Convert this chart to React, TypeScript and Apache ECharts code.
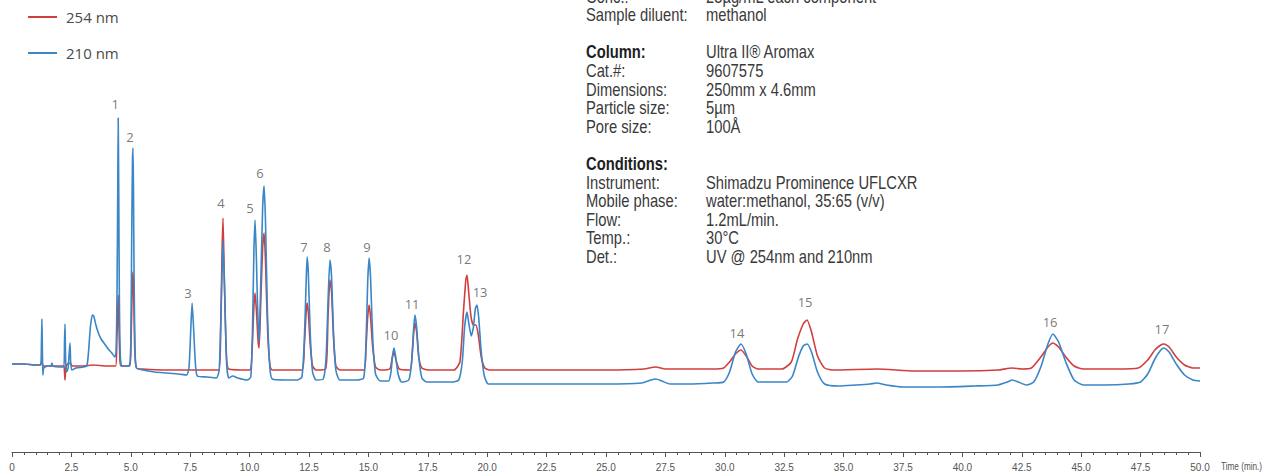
import React, { useEffect, useRef } from "react";
import * as echarts from "echarts";

// Chromatogram traces: [time (min), detector response (arbitrary units)]
const trace254: number[][] = [
  [0, 88], [0.5, 88], [1.0, 87], [1.2, 87], [1.26, 90], [1.32, 86], [1.5, 86], [2.0, 86], [2.18, 86],
  [2.21, 80], [2.23, 72], [2.26, 82], [2.3, 87], [2.44, 89], [2.55, 86], [3.0, 86], [3.4, 87], [4.0, 86],
  [4.36, 86], [4.41, 110], [4.45, 140], [4.47, 157], [4.49, 140], [4.53, 100], [4.58, 86], [4.95, 86],
  [5.01, 110], [5.06, 165], [5.09, 180], [5.12, 160], [5.17, 100], [5.24, 84], [5.5, 83], [6.5, 82],
  [7.5, 82], [8.7, 82], [8.78, 120], [8.84, 200], [8.88, 234], [8.93, 180], [9.02, 100], [9.12, 83],
  [10.0, 82], [10.1, 100], [10.18, 145], [10.23, 159], [10.29, 140], [10.36, 110], [10.4, 104],
  [10.47, 150], [10.55, 205], [10.61, 219], [10.67, 190], [10.76, 120], [10.86, 86], [10.95, 82],
  [12.2, 82], [12.3, 105], [12.38, 140], [12.42, 149], [12.47, 140], [12.55, 108], [12.65, 86],
  [12.8, 82], [13.2, 83], [13.3, 135], [13.38, 172], [13.45, 160], [13.53, 115], [13.63, 86],
  [13.8, 82], [14.8, 82], [14.9, 105], [14.97, 135], [15.03, 147], [15.09, 135], [15.18, 105],
  [15.3, 85], [15.5, 82], [15.9, 83], [16.0, 94], [16.08, 100], [16.16, 92], [16.3, 83], [16.75, 82],
  [16.84, 97], [16.91, 120], [16.96, 129], [17.03, 120], [17.12, 95], [17.25, 84], [17.5, 82],
  [18.6, 82], [18.85, 90], [19.0, 140], [19.1, 172], [19.15, 177], [19.22, 160], [19.32, 135],
  [19.42, 127], [19.52, 127], [19.62, 118], [19.75, 95], [19.9, 84], [20.1, 82], [22, 82], [25, 82],
  [26.6, 83], [27.1, 85], [27.5, 83], [28.5, 83], [29.5, 83], [29.95, 84], [30.2, 90], [30.45, 98],
  [30.68, 102], [30.9, 96], [31.15, 86], [31.4, 83], [32.4, 83], [32.8, 90], [33.05, 112], [33.3, 128],
  [33.46, 132], [33.65, 120], [33.9, 96], [34.2, 84], [34.6, 82], [36.4, 83], [38, 81], [40, 81],
  [41.5, 82], [42.1, 84], [42.5, 83], [42.9, 84], [43.3, 95], [43.6, 105], [43.81, 109], [44.05, 105],
  [44.35, 95], [44.7, 86], [45.1, 83], [46.5, 83], [47.4, 84], [47.8, 92], [48.1, 102], [48.35, 107],
  [48.48, 108], [48.7, 105], [49.0, 95], [49.35, 87], [49.7, 84], [50, 84],
];

const trace210: number[][] = [
  [0, 88], [0.5, 88], [1.0, 87], [1.2, 87], [1.24, 110], [1.26, 133], [1.28, 100], [1.3, 77], [1.34, 84],
  [1.5, 86], [1.64, 86], [1.68, 89], [1.72, 86], [2.0, 85], [2.18, 85], [2.21, 110], [2.23, 128],
  [2.26, 90], [2.3, 80], [2.36, 84], [2.41, 100], [2.44, 109], [2.47, 90], [2.52, 82], [2.7, 84],
  [3.0, 85], [3.15, 86], [3.22, 100], [3.3, 125], [3.38, 137], [3.44, 136], [3.52, 128], [3.62, 120],
  [3.75, 113], [3.9, 108], [4.05, 103], [4.2, 99], [4.33, 95], [4.38, 100], [4.42, 160], [4.45, 260],
  [4.47, 334], [4.49, 270], [4.52, 150], [4.56, 95], [4.62, 86], [4.8, 86], [4.95, 87], [5.0, 110],
  [5.04, 220], [5.07, 290], [5.09, 304], [5.11, 270], [5.14, 170], [5.18, 100], [5.24, 84], [5.5, 82],
  [6.0, 80], [6.5, 79], [7.0, 78], [7.35, 77], [7.45, 85], [7.52, 120], [7.58, 149], [7.64, 125],
  [7.72, 88], [7.8, 76], [8.2, 75], [8.6, 74], [8.72, 82], [8.8, 140], [8.88, 212], [8.95, 160],
  [9.03, 90], [9.12, 74], [9.3, 76], [9.5, 74], [9.9, 72], [10.05, 75], [10.12, 120], [10.18, 200],
  [10.23, 232], [10.29, 190], [10.33, 150], [10.4, 109], [10.46, 160], [10.55, 245], [10.61, 266],
  [10.67, 230], [10.75, 140], [10.85, 85], [10.95, 73], [11.5, 72], [12.0, 72], [12.2, 75], [12.3, 110],
  [12.38, 170], [12.42, 195], [12.47, 180], [12.55, 120], [12.65, 80], [12.8, 72], [13.1, 73],
  [13.22, 95], [13.3, 150], [13.38, 192], [13.45, 175], [13.53, 120], [13.63, 82], [13.8, 72],
  [14.5, 72], [14.8, 74], [14.9, 110], [14.97, 170], [15.03, 194], [15.09, 175], [15.18, 115],
  [15.3, 78], [15.5, 71], [15.85, 71], [15.95, 80], [16.02, 97], [16.08, 104], [16.15, 95], [16.25, 78],
  [16.4, 70], [16.7, 72], [16.82, 90], [16.9, 122], [16.96, 137], [17.03, 125], [17.12, 95], [17.25, 74],
  [17.45, 70], [18.5, 70], [18.8, 72], [18.95, 90], [19.05, 125], [19.15, 140], [19.23, 128],
  [19.33, 116], [19.42, 125], [19.5, 143], [19.57, 147], [19.64, 135], [19.75, 100], [19.88, 76],
  [20.05, 68], [21, 68], [23, 68], [25, 68], [26.5, 69], [26.9, 72], [27.1, 73], [27.35, 71], [27.7, 68],
  [28.5, 68], [29.5, 69], [29.95, 70], [30.2, 80], [30.45, 100], [30.68, 108], [30.9, 98], [31.15, 78],
  [31.4, 70], [32, 70], [32.6, 70], [32.85, 76], [33.1, 95], [33.3, 106], [33.46, 108], [33.65, 100],
  [33.9, 80], [34.2, 68], [34.8, 66], [35.5, 67], [36.1, 68], [36.4, 69], [36.8, 67], [37.5, 65],
  [39, 65], [40.5, 66], [41.5, 67], [41.9, 70], [42.1, 72], [42.35, 70], [42.7, 67], [43.0, 70],
  [43.3, 85], [43.6, 108], [43.81, 118], [44.05, 110], [44.35, 90], [44.7, 72], [45.1, 67], [46, 67],
  [47, 68], [47.5, 70], [47.8, 78], [48.1, 93], [48.35, 102], [48.48, 104], [48.7, 100], [49.0, 88],
  [49.35, 77], [49.7, 72], [50, 71],
];

// Peak numbers and where their labels sit
const peakNames = ["1", "2", "3", "4", "5", "6", "7", "8", "9", "10", "11", "12", "13", "14", "15", "16", "17"];
const peakLabelTime = [4.34, 4.97, 7.41, 8.8, 10.02, 10.44, 12.29, 13.26, 14.94, 15.95, 16.84, 19.02, 19.7, 30.51, 33.38, 43.69, 48.4];
const peakLabelValue = [348, 315, 159, 249, 244, 279, 205, 205, 205, 117, 148, 193, 160, 119, 150, 130, 123];

const seriesNames = ["254 nm", "210 nm"];
const axisTitle = "Time (min.)";

// Method info block
const infoLabels = ["Conc.:", "Sample diluent:", "", "Column:", "Cat.#:", "Dimensions:", "Particle size:", "Pore size:", "", "Conditions:", "Instrument:", "Mobile phase:", "Flow:", "Temp.:", "Det.:"];
const infoValues = ["25µg/mL each component", "methanol", "", "Ultra II® Aromax", "9607575", "250mm x 4.6mm", "5µm", "100Å", "", "", "Shimadzu Prominence UFLCXR", "water:methanol, 35:65 (v/v)", "1.2mL/min.", "30°C", "UV @ 254nm and 210nm"];
const infoHeadings = ["Column:", "Conditions:"];

const RED = "#d23d3d";
const BLUE = "#3a86c6";
const SANS = "'Liberation Sans', Arial, sans-serif";
const NARROW_SCALE = 0.82;

export default function App() {
  const ref = useRef<HTMLDivElement>(null);
  useEffect(() => {
    if (!ref.current) return;
    const chart = echarts.init(ref.current, null, { renderer: "svg" });

    const graphics: any[] = [];
    infoLabels.forEach((lab, i) => {
      const y = -4 + 18.6 * i;
      const bold = infoHeadings.includes(lab);
      if (lab) {
        graphics.push({
          type: "text", x: 586, y, scaleX: NARROW_SCALE,
          style: { text: lab, fill: bold ? "#1e1e1e" : "#3a3a3a", font: `${bold ? "bold " : ""}18px ${SANS}`, verticalAlign: "middle", align: "left" },
        });
      }
      if (infoValues[i]) {
        graphics.push({
          type: "text", x: 706, y, scaleX: NARROW_SCALE,
          style: { text: infoValues[i], fill: "#3a3a3a", font: `18px ${SANS}`, verticalAlign: "middle", align: "left" },
        });
      }
    });
    graphics.push({
      type: "text", x: 1221, y: 467, scaleX: NARROW_SCALE,
      style: { text: axisTitle, fill: "#555", font: `10px ${SANS}`, verticalAlign: "middle", align: "left" },
    });

    chart.setOption({
      animation: false,
      backgroundColor: "#ffffff",
      grid: { left: 12, right: 68, top: 100, bottom: 20, containLabel: false },
      legend: {
        data: seriesNames,
        orient: "vertical",
        left: 28,
        top: 9,
        padding: 0,
        itemWidth: 29,
        itemHeight: 2,
        itemGap: 20,
        icon: "rect",
        textStyle: { fontFamily: "'Open Sans', sans-serif", fontSize: 15, color: "#4a4a4a", lineHeight: 16, padding: [0, 0, 0, 4] },
      },
      xAxis: {
        type: "value",
        min: 0,
        max: 50,
        interval: 2.5,
        axisLine: { lineStyle: { color: "#555", width: 1 } },
        axisTick: { length: 5, lineStyle: { color: "#555" } },
        minorTick: { show: true, splitNumber: 5, length: 3, lineStyle: { color: "#555" } },
        splitLine: { show: false },
        minorSplitLine: { show: false },
        axisLabel: {
          formatter: (v: number) => (v === 0 ? "0" : v.toFixed(1)),
          color: "#555",
          fontSize: 10,
          margin: 10,
          fontFamily: SANS,
        },
      },
      yAxis: { type: "value", min: 0, max: 352, show: false },
      series: [
        {
          name: seriesNames[0], type: "line", data: trace254, symbol: "none", color: RED,
          lineStyle: { width: 1.6, color: RED }, smooth: 0.2, z: 2,
        },
        {
          name: seriesNames[1], type: "line", data: trace210, symbol: "none", color: BLUE,
          lineStyle: { width: 1.6, color: BLUE }, smooth: 0.2, z: 3,
        },
        {
          type: "scatter",
          silent: true,
          symbolSize: 0,
          z: 4,
          itemStyle: { color: "rgba(0,0,0,0)" },
          data: peakNames.map((n, i) => ({ name: n, value: [peakLabelTime[i], peakLabelValue[i]] })),
          label: {
            show: true, position: "inside", formatter: "{b}", color: "#555", fontSize: 13,
            textBorderWidth: 0, textBorderColor: "transparent", fontFamily: "'Open Sans', sans-serif",
          },
        },
      ],
      graphic: graphics,
    });
    return () => chart.dispose();
  }, []);
  return <div ref={ref} style={{ position: "absolute", left: 0, top: 0, width: 1268, height: 472 }} />;
}
